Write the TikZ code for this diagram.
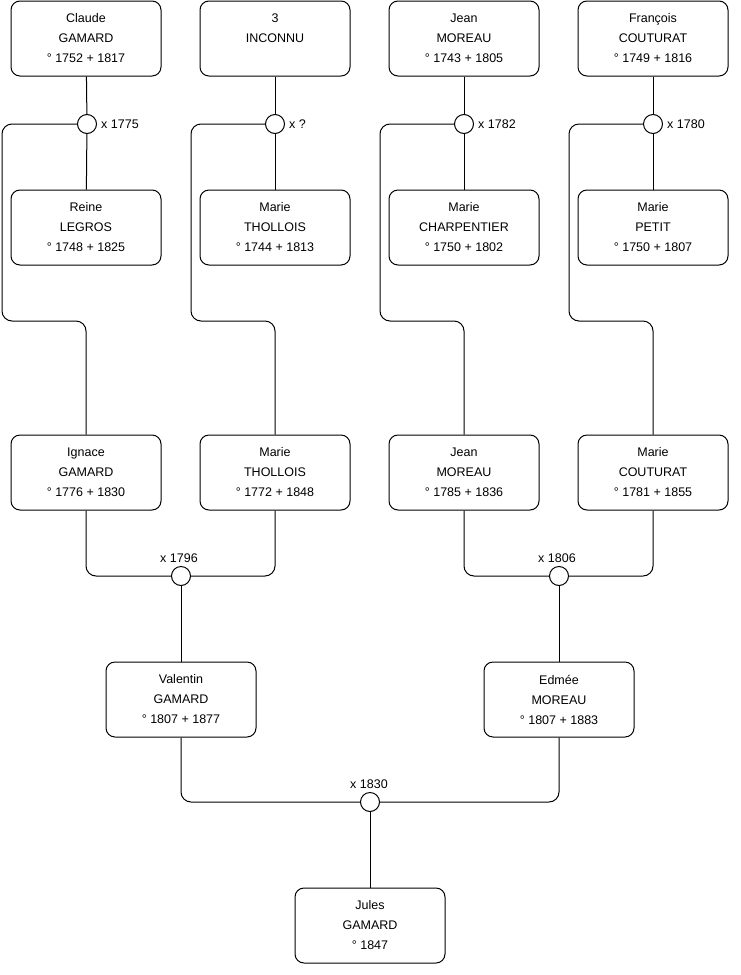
\documentclass[tikz,border=0pt]{standalone}
\usepackage{fontspec}
\setmainfont{Liberation Sans}
\begin{document}
\begin{tikzpicture}[x=1pt,y=-1pt,
  person/.style={draw, line width=1pt, rounded corners=9pt, minimum width=150pt, minimum height=75pt,
    inner sep=0pt, align=center, font=\fontsize{12.5}{20}\selectfont},
  wed/.style={draw, line width=1pt, circle, minimum size=19pt, inner sep=0pt, fill=white},
  lbl/.style={inner sep=0pt, font=\fontsize{12.5}{15}\selectfont},
  link/.style={line width=1pt, rounded corners=10pt}]
\useasboundingbox (0,0) rectangle (740,975);
% row 1
\node[person] (p1) at (86,38.5) {Claude\\GAMARD\\° 1752 + 1817};
\node[person] (p2) at (275,38.5) {3\\INCONNU\\\mbox{}};
\node[person] (p3) at (464,38.5) {Jean\\MOREAU\\° 1743 + 1805};
\node[person] (p4) at (653,38.5) {François\\COUTURAT\\° 1749 + 1816};
% marriages row 1
\node[wed] (m1) at (87,124) {};
\node[wed] (m2) at (275,124) {};
\node[wed] (m3) at (464,124) {};
\node[wed] (m4) at (653,124) {};
\node[lbl, anchor=west] (l1) at ([xshift=4pt]m1.east) {x 1775};
\node[lbl, anchor=west] (l2) at ([xshift=4pt]m2.east) {x ?};
\node[lbl, anchor=west] (l3) at ([xshift=4pt]m3.east) {x 1782};
\node[lbl, anchor=west] (l4) at ([xshift=4pt]m4.east) {x 1780};
% row 2
\node[person] (w1) at (86,227.5) {Reine\\LEGROS\\° 1748 + 1825};
\node[person] (w2) at (275,227.5) {Marie\\THOLLOIS\\° 1744 + 1813};
\node[person] (w3) at (464,227.5) {Marie\\CHARPENTIER\\° 1750 + 1802};
\node[person] (w4) at (653,227.5) {Marie\\PETIT\\° 1750 + 1807};
% row 3
\node[person] (c1) at (86,472.5) {Ignace\\GAMARD\\° 1776 + 1830};
\node[person] (c2) at (275,472.5) {Marie\\THOLLOIS\\° 1772 + 1848};
\node[person] (c3) at (464,472.5) {Jean\\MOREAU\\° 1785 + 1836};
\node[person] (c4) at (653,472.5) {Marie\\COUTURAT\\° 1781 + 1855};
% marriages row 3
\node[wed] (m5) at (181,576) {};
\node[wed] (m6) at (559,576) {};
\node[lbl, anchor=south] (l5) at ([xshift=-2pt,yshift=3pt]m5.north) {x 1796};
\node[lbl, anchor=south] (l6) at ([xshift=-2pt,yshift=3pt]m6.north) {x 1806};
% row 4
\node[person] (g1) at (181,699.5) {Valentin\\GAMARD\\° 1807 + 1877};
\node[person] (g2) at (559,699.5) {Edmée\\MOREAU\\° 1807 + 1883};
\node[wed] (m7) at (370,802) {};
\node[lbl, anchor=south] (l7) at ([xshift=-1pt,yshift=3pt]m7.north) {x 1830};
% row 5
\node[person] (j) at (370,925.5) {Jules\\GAMARD\\° 1847};
% connectors
\foreach \i in {1,2,3,4}{
  \draw[line width=1pt] (p\i) -- (m\i);
  \draw[line width=1pt] (m\i) -- (w\i);
}
\draw[link] (m1.west) -| (2,321) -| (c1.north);
\draw[link] (m2.west) -| (191,321) -| (c2.north);
\draw[link] (m3.west) -| (380,321) -| (c3.north);
\draw[link] (m4.west) -| (569,321) -| (c4.north);
\draw[link] (c1.south) |- (m5.west);
\draw[link] (c2.south) |- (m5.east);
\draw[link] (c3.south) |- (m6.west);
\draw[link] (c4.south) |- (m6.east);
\draw[line width=1pt] (m5) -- (g1);
\draw[line width=1pt] (m6) -- (g2);
\draw[link] (g1.south) |- (m7.west);
\draw[link] (g2.south) |- (m7.east);
\draw[line width=1pt] (m7) -- (j);
\end{tikzpicture}
\end{document}
